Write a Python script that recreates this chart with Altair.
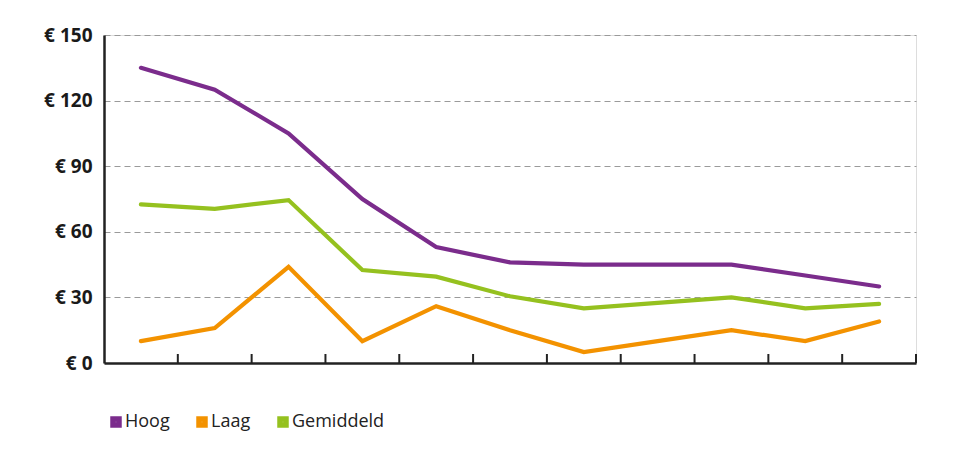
import altair as alt
import pandas as pd

positions = list(range(1, 12))
hoog = [135, 125, 105, 75, 53, 46, 45, 45, 45, 40, 35]
laag = [10, 16, 44, 10, 26, 15, 5, 10, 15, 10, 19]
gemiddeld = [72.5, 70.5, 74.5, 42.5, 39.5, 30.5, 25, 27.5, 30, 25, 27]
series_names = ["Hoog", "Laag", "Gemiddeld"]
series_colors = ["#7B2C8C", "#F39200", "#95C11F"]
y_ticks = [0, 30, 60, 90, 120, 150]
x_tick_marks = list(range(1, 12))

rows = []
for name, vals in zip(series_names, [hoog, laag, gemiddeld]):
    for p, v in zip(positions, vals):
        rows.append({"pos": p - 0.5, "waarde": v, "serie": name})
df = pd.DataFrame(rows)
ticks_df = pd.DataFrame({"t": x_tick_marks})

W, H = 812, 328

x_scale = alt.Scale(domain=[0, 11], nice=False, zero=False)
y_scale = alt.Scale(domain=[0, 150], nice=False)

lines = alt.Chart(df).mark_line(strokeWidth=4.2, strokeCap="round").encode(
    x=alt.X("pos:Q", scale=x_scale,
            axis=alt.Axis(title=None, labels=False, ticks=False, grid=False,
                          domainColor="#222222", domainWidth=2.5)),
    y=alt.Y("waarde:Q", scale=y_scale,
            axis=alt.Axis(title=None, values=y_ticks, labelExpr="'€ ' + datum.value",
                          labelFont="Open Sans", labelFontWeight="bold", labelFontSize=19,
                          labelColor="#1a1a1a", labelPadding=12, ticks=False,
                          domainColor="#222222", domainWidth=2.5,
                          grid=True, gridColor="#9a9a9a", gridDash=[6, 4], gridWidth=1.2)),
    color=alt.Color("serie:N",
                    scale=alt.Scale(domain=series_names, range=series_colors),
                    sort=series_names,
                    legend=alt.Legend(title=None, orient="none", legendX=3, legendY=378,
                                      direction="horizontal", symbolType="square",
                                      symbolSize=36, symbolStrokeWidth=5.5,
                                      labelFont="Open Sans", labelFontSize=18,
                                      labelColor="#222222", labelOffset=0,
                                      columnPadding=18)),
    detail="serie:N",
)

tick_rules = alt.Chart(ticks_df).mark_rule(color="#222222", strokeWidth=2).encode(
    x=alt.X("t:Q", scale=x_scale),
    y=alt.value(H),
    y2=alt.value(H - 9),
)

chart = alt.layer(tick_rules, lines).properties(
    width=W, height=H,
    autosize=alt.AutoSizeParams(type="none"),
    padding={"left": 96, "top": 27, "right": 30, "bottom": 80},
).configure_view(stroke=None).configure(background="white")

chart.save("out.html", embed_options={"renderer": "svg", "actions": False})
